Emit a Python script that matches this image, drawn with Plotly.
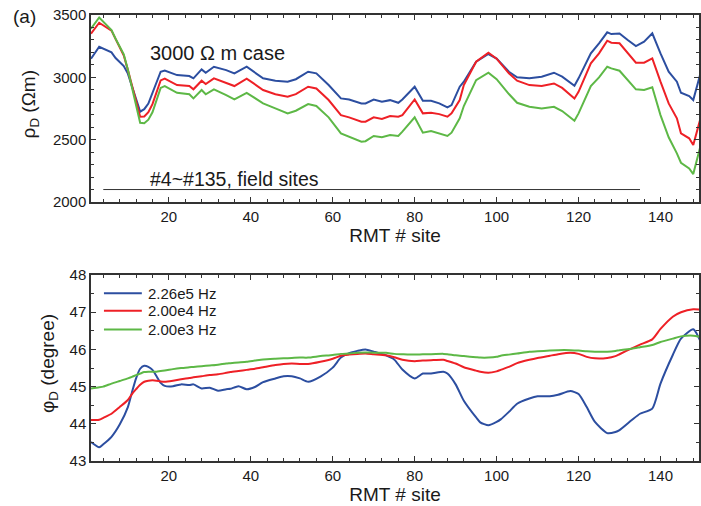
import plotly.graph_objects as go

# ---------------- data ----------------
# Apparent resistivity rho_D (Ohm m) along the RMT profile, 3000 Ohm m case
rho_sites = [1, 3, 6, 7, 9, 10, 13, 14, 15, 16, 18, 19, 22, 25, 26, 28, 29, 31, 34, 36,
             39, 43, 46, 49, 51, 54, 56, 59, 62, 64, 67, 68, 70, 72, 74, 76, 77, 80, 82, 84,
             86, 88, 89, 91, 92, 95, 98, 100, 103, 105, 108, 111, 114, 116, 119, 120, 123, 125,
             127, 128, 130, 132, 134, 136, 138, 140, 142, 144, 145, 147, 148, 150]
rho_226e5 = [3150, 3245, 3200, 3155, 3090, 3030, 2725, 2745, 2790, 2880, 3045, 3055, 3018, 3010,
             2992, 3064, 3037, 3085, 3058, 3032, 3085, 2992, 2973, 2965, 2985, 3045, 3032, 2938,
             2831, 2822, 2791, 2791, 2822, 2804, 2817, 2796, 2822, 2925, 2812, 2812, 2791, 2759,
             2777, 2925, 2965, 3125, 3187, 3150, 3045, 3000, 2992, 3005, 3037, 3005, 2933, 2992,
             3192, 3273, 3361, 3347, 3352, 3299, 3251, 3286, 3353, 3192, 3045, 2965, 2876, 2850,
             2818, 3060]
rho_200e4 = [3350, 3438, 3375, 3310, 3175, 3060, 2684, 2686, 2720, 2785, 2975, 2990, 2938, 2930,
             2904, 2973, 2946, 2992, 2957, 2930, 2990, 2898, 2864, 2844, 2865, 2925, 2911, 2818,
             2697, 2679, 2644, 2644, 2679, 2666, 2690, 2684, 2697, 2823, 2711, 2716, 2705, 2684,
             2711, 2818, 2938, 3125, 3198, 3150, 3032, 2973, 2938, 2930, 2951, 2915, 2831, 2884,
             3112, 3192, 3294, 3278, 3273, 3192, 3117, 3117, 3152, 2965, 2791, 2671, 2551, 2511,
             2457, 2700]
rho_200e3 = [3390, 3480, 3380, 3310, 3185, 3060, 2636, 2632, 2660, 2720, 2915, 2930, 2876, 2864,
             2831, 2898, 2864, 2904, 2858, 2823, 2876, 2791, 2751, 2711, 2732, 2786, 2770, 2679,
             2551, 2524, 2483, 2488, 2530, 2519, 2538, 2530, 2564, 2679, 2556, 2570, 2551, 2530,
             2556, 2671, 2770, 2978, 3037, 2985, 2866, 2796, 2764, 2751, 2764, 2730, 2652, 2711,
             2930, 3000, 3085, 3072, 3053, 2978, 2904, 2898, 2920, 2697, 2519, 2390, 2315, 2269,
             2224, 2480]

# Apparent phase phi_D (degree) along the same profile
phi_sites = [1, 3, 4, 6, 8, 10, 11, 12, 13, 14, 15, 16, 17, 18, 19, 21, 23, 25, 26, 28, 30, 32,
             34, 35, 37, 39, 41, 43, 46, 48, 50, 52, 54, 57, 60, 62, 64, 66, 68, 70, 73, 75, 77,
             80, 82, 84, 87, 88, 90, 92, 95, 96, 98, 100, 101, 103, 105, 108, 110, 113, 115, 118,
             120, 122, 124, 127, 129, 130, 133, 135, 138, 140, 143, 145, 148, 150]
phi_226e5 = [43.51, 43.37, 43.45, 43.65, 43.98, 44.45, 44.85, 45.22, 45.48, 45.56, 45.53, 45.45,
             45.28, 45.10, 45.02, 45.01, 45.06, 45.04, 45.06, 44.95, 44.97, 44.89, 44.93, 44.94,
             45.01, 44.93, 44.99, 45.12, 45.22, 45.28, 45.28, 45.22, 45.13, 45.27, 45.51, 45.78,
             45.90, 45.96, 46.00, 45.94, 45.84, 45.73, 45.46, 45.22, 45.35, 45.35, 45.40, 45.35,
             45.06, 44.62, 44.17, 44.04, 43.96, 44.05, 44.12, 44.32, 44.54, 44.68, 44.74, 44.74,
             44.78, 44.88, 44.80, 44.45, 44.05, 43.75, 43.78, 43.83, 44.10, 44.27, 44.41, 45.08,
             45.85, 46.29, 46.54, 46.16]
phi_200e4 = [44.10, 44.11, 44.16, 44.27, 44.45, 44.64, 44.80, 44.93, 45.05, 45.13, 45.16, 45.17,
             45.16, 45.14, 45.13, 45.16, 45.20, 45.23, 45.25, 45.28, 45.31, 45.33, 45.37, 45.39,
             45.42, 45.45, 45.48, 45.52, 45.58, 45.61, 45.62, 45.61, 45.61, 45.67, 45.75, 45.83,
             45.86, 45.88, 45.89, 45.87, 45.84, 45.79, 45.72, 45.68, 45.70, 45.71, 45.72, 45.69,
             45.62, 45.52, 45.43, 45.40, 45.37, 45.41, 45.45, 45.53, 45.63, 45.72, 45.77, 45.83,
             45.87, 45.91, 45.88, 45.80, 45.76, 45.77, 45.82, 45.87, 46.03, 46.13, 46.27, 46.55,
             46.88, 47.00, 47.08, 47.07]
phi_200e3 = [44.95, 44.98, 45.00, 45.08, 45.15, 45.22, 45.26, 45.31, 45.35, 45.39, 45.40, 45.40,
             45.40, 45.42, 45.43, 45.47, 45.50, 45.52, 45.53, 45.55, 45.57, 45.59, 45.62, 45.63,
             45.65, 45.67, 45.70, 45.73, 45.75, 45.76, 45.77, 45.78, 45.78, 45.82, 45.85, 45.88,
             45.89, 45.91, 45.92, 45.91, 45.91, 45.88, 45.87, 45.86, 45.87, 45.87, 45.88, 45.87,
             45.84, 45.82, 45.79, 45.78, 45.78, 45.80, 45.83, 45.86, 45.89, 45.94, 45.95, 45.97,
             45.98, 45.98, 45.97, 45.95, 45.94, 45.94, 45.96, 45.98, 46.02, 46.06, 46.12, 46.20,
             46.29, 46.35, 46.37, 46.33]

series_names = ["2.26e5 Hz", "2.00e4 Hz", "2.00e3 Hz"]
series_colors = ["#2c4ea0", "#ee2026", "#5db846"]

field_site_range = [4, 135]
field_line_level = [2100, 2100]

rho_ticks = [2000, 2500, 3000, 3500]
phi_ticks = [43, 44, 45, 46, 47, 48]
site_ticks = [20, 40, 60, 80, 100, 120, 140]

# ---------------- figure ----------------
FONT = "Liberation Sans, Arial, Helvetica, sans-serif"
INK = "#1a1a1a"
AXIS = "#333333"

fig = go.Figure()

for name, color, vals in zip(series_names, series_colors, [rho_226e5, rho_200e4, rho_200e3]):
    fig.add_trace(go.Scatter(x=rho_sites, y=vals, mode="lines", name=name,
                             line=dict(color=color, width=2), showlegend=False,
                             xaxis="x", yaxis="y"))

fig.add_trace(go.Scatter(x=field_site_range, y=field_line_level, mode="lines",
                         line=dict(color=AXIS, width=1), showlegend=False,
                         xaxis="x", yaxis="y"))

for name, color, vals in zip(series_names, series_colors, [phi_226e5, phi_200e4, phi_200e3]):
    fig.add_trace(go.Scatter(x=phi_sites, y=vals, mode="lines", name=name,
                             line=dict(color=color, width=2, shape="spline", smoothing=0.6),
                             showlegend=False, xaxis="x2", yaxis="y2"))

common_axis = dict(
    showline=True, linecolor=AXIS, linewidth=1.5, mirror="ticks",
    ticks="inside", tickcolor=AXIS, ticklen=5, tickwidth=1,
    showgrid=False, zeroline=False,
    tickfont=dict(family=FONT, size=15, color=INK),
)

x_common = dict(common_axis, range=[1, 149.4], tickvals=site_ticks,
                minor=dict(dtick=4, tick0=0, ticks="inside", ticklen=3, tickcolor=AXIS),
                title=dict(text="RMT # site", font=dict(family=FONT, size=19, color=INK),
                           standoff=3))

fig.update_layout(
    width=701, height=506,
    margin=dict(l=91, r=0, t=15, b=45),
    paper_bgcolor="white", plot_bgcolor="white",
    xaxis=dict(x_common, domain=[0, 1], anchor="y"),
    yaxis=dict(common_axis, domain=[0.5807, 1], range=[2000, 3500], tickvals=rho_ticks,
               minor=dict(dtick=100, ticks="inside", ticklen=3, tickcolor=AXIS),
               anchor="x"),
    xaxis2=dict(x_common, domain=[0, 1], anchor="y2"),
    yaxis2=dict(common_axis, domain=[0, 0.417], range=[43, 48], tickvals=phi_ticks,
                minor=dict(dtick=0.5, ticks="inside", ticklen=3, tickcolor=AXIS),
                anchor="x2"),
    showlegend=False,
)

# Legend for the phase panel: short colour swatches with their frequency labels
legend_rows_y = [0.376, 0.337, 0.295]
shapes = []
annotations = []
for name, color, ly in zip(series_names, series_colors, legend_rows_y):
    shapes.append(dict(type="line", xref="paper", yref="paper", x0=0.0213, x1=0.0836,
                       y0=ly, y1=ly, line=dict(color=color, width=2)))
    annotations.append(dict(text=name, x=0.0902, y=ly, xref="paper", yref="paper",
                            xanchor="left", yanchor="middle", showarrow=False,
                            font=dict(family=FONT, size=15, color=INK)))

annotations += [
    dict(text="(a)", x=-0.131, y=0.996, xref="paper", yref="paper",
         xanchor="left", yanchor="middle", showarrow=False,
         font=dict(family=FONT, size=19, color=INK)),
    dict(text="3000 \u03a9 m case", x=14.8, y=3195, xref="x", yref="y",
         xanchor="left", yanchor="middle", showarrow=False,
         font=dict(family=FONT, size=20, color=INK)),
    dict(text="#4~#135, field sites", x=14.8, y=2186, xref="x", yref="y",
         xanchor="left", yanchor="middle", showarrow=False,
         font=dict(family=FONT, size=19.5, color=INK)),
    dict(text="\u03c1<sub>D</sub> (\u03a9m)", x=-0.1, y=0.80, xref="paper", yref="paper",
         xanchor="center", yanchor="middle", textangle=-90, showarrow=False,
         font=dict(family=FONT, size=19, color=INK)),
    dict(text="\u03c6<sub>D</sub> (degree)", x=-0.068, y=0.219, xref="paper", yref="paper",
         xanchor="center", yanchor="middle", textangle=-90, showarrow=False,
         font=dict(family=FONT, size=19, color=INK)),
]
fig.update_layout(shapes=shapes, annotations=annotations)

fig.write_html("out.html")
